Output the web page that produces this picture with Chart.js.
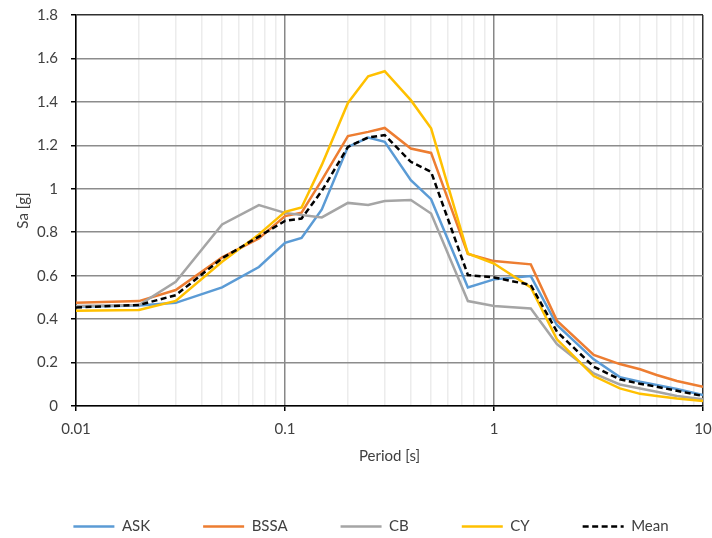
<!DOCTYPE html>
<html>
<head>
<meta charset="utf-8">
<script src="https://cdn.jsdelivr.net/npm/chart.js@4/dist/chart.umd.min.js"></script>
<style>
  html, body { margin: 0; padding: 0; background: #fff; }
  #wrap { width: 712px; height: 538px; }
</style>
</head>
<body>
<div id="wrap"><canvas id="chart"></canvas></div>
<script>
// periods [s] and spectral accelerations [g]
const periods = [0.01, 0.02, 0.03, 0.05, 0.075, 0.1, 0.12, 0.15, 0.2, 0.25, 0.3, 0.4, 0.5, 0.75, 1, 1.5, 2, 3, 4, 5, 6, 7.5, 10];
const ask  = [0.457, 0.463, 0.475, 0.546, 0.64, 0.751, 0.774, 0.905, 1.193, 1.236, 1.216, 1.04, 0.952, 0.546, 0.583, 0.598, 0.373, 0.215, 0.133, 0.112, 0.097, 0.078, 0.051];
const bssa = [0.475, 0.483, 0.534, 0.684, 0.771, 0.874, 0.89, 1.04, 1.243, 1.262, 1.28, 1.185, 1.165, 0.70, 0.667, 0.652, 0.393, 0.235, 0.193, 0.169, 0.143, 0.115, 0.089];
const cb   = [0.46, 0.465, 0.572, 0.836, 0.925, 0.889, 0.879, 0.868, 0.935, 0.925, 0.944, 0.948, 0.886, 0.483, 0.46, 0.449, 0.285, 0.15, 0.099, 0.081, 0.066, 0.046, 0.031];
const cy   = [0.438, 0.442, 0.484, 0.664, 0.79, 0.894, 0.914, 1.11, 1.395, 1.518, 1.541, 1.408, 1.278, 0.702, 0.656, 0.546, 0.307, 0.138, 0.081, 0.056, 0.046, 0.034, 0.023];
const mean = [0.454, 0.465, 0.51, 0.68, 0.78, 0.852, 0.863, 0.99, 1.193, 1.236, 1.247, 1.124, 1.078, 0.603, 0.592, 0.557, 0.342, 0.181, 0.123, 0.102, 0.089, 0.07, 0.046];

// labelled decades on the log axis
const xMajor = [0.01, 0.1, 1, 10];

const FONT = { family: 'Lato, "Open Sans", sans-serif', size: 15 };
const TEXT = '#404040';

const toPoints = ys => ys.map((y, i) => ({ x: periods[i], y }));

function series(label, data, color, order, dash) {
  return {
    label,
    data: toPoints(data),
    borderColor: color,
    backgroundColor: color,
    borderWidth: 2.5,
    borderDash: dash || [],
    pointRadius: 0,
    tension: 0,
    order,
  };
}

// log grid: every 1..9 step inside each decade
function logGridTicks(scale) {
  const ticks = [];
  for (let d = 0; d < xMajor.length - 1; d++) {
    for (let k = 1; k < 10; k++) {
      const v = Number((xMajor[d] * k).toPrecision(3));
      ticks.push({ value: v, major: k === 1 });
    }
  }
  ticks.push({ value: xMajor[xMajor.length - 1], major: true });
  scale.ticks = ticks;
}

const isMajor = v => xMajor.some(m => Math.abs(m - v) < 1e-9);

// legend swatches drawn as lines, keeping the dataset's dash and width
function lineLabels(chart) {
  const items = Chart.defaults.plugins.legend.labels.generateLabels(chart);
  items.forEach(item => {
    const ds = chart.data.datasets[item.datasetIndex];
    item.strokeStyle = ds.borderColor;
    item.lineWidth = ds.borderWidth;
    item.lineDash = ds.borderDash;
  });
  return items;
}

// the legend sits a little right of centre in the original
const legendNudge = {
  id: 'legendNudge',
  afterLayout(chart) {
    const lg = chart.legend;
    if (!lg) return;
    lg.left += 15;
    lg.right += 15;
  },
};

new Chart(document.getElementById('chart'), {
  type: 'line',
  data: {
    datasets: [
      series('ASK', ask, '#5B9BD5', 4),
      series('BSSA', bssa, '#ED7D31', 3),
      series('CB', cb, '#A5A5A5', 2),
      series('CY', cy, '#FFC000', 1),
      series('Mean', mean, '#000000', 0, [6, 3.5]),
    ],
  },
  options: {
    responsive: true,
    maintainAspectRatio: false,
    animation: false,
    layout: { padding: { top: 15, right: 0, bottom: -6, left: 0 } },
    scales: {
      x: {
        type: 'logarithmic',
        min: 0.01,
        max: 10,
        afterBuildTicks: logGridTicks,
        afterFit: scale => {
          scale.height = 60;
          scale.paddingRight = 9;
        },
        border: { color: '#000', width: 1.5 },
        grid: {
          lineWidth: 1.5,
          tickLength: 5,
          color: ctx => {
            const v = ctx.tick ? ctx.tick.value : 0;
            if (v >= 10) return '#303030';
            return isMajor(v) ? '#878787' : '#ececec';
          },
          tickColor: ctx => (ctx.tick && isMajor(ctx.tick.value) ? '#000' : 'rgba(0,0,0,0)'),
        },
        ticks: {
          autoSkip: false,
          maxRotation: 0,
          padding: 9,
          color: TEXT,
          font: FONT,
          callback: v => (isMajor(v) ? String(v) : ''),
        },
        title: { display: true, text: 'Period [s]', color: TEXT, font: FONT, padding: { top: 0, bottom: 1 } },
      },
      y: {
        min: 0,
        max: 1.8,
        afterFit: scale => {
          scale.width = 76;
          scale.paddingTop = 9;
        },
        border: { color: '#000', width: 1.5 },
        grid: {
          lineWidth: 1.5,
          tickLength: 5,
          tickColor: '#000',
          color: ctx => (ctx.tick && ctx.tick.value >= 1.8 ? '#303030' : '#8c8c8c'),
        },
        ticks: {
          stepSize: 0.2,
          padding: 13,
          color: TEXT,
          font: FONT,
          callback: v => String(Number(v.toFixed(1))),
        },
        title: { display: true, text: 'Sa [g]', color: TEXT, font: FONT, padding: { top: 14, bottom: 0 } },
      },
    },
    plugins: {
      legend: {
        position: 'bottom',
        reverse: true,
        labels: {
          usePointStyle: true,
          pointStyle: 'line',
          pointStyleWidth: 41,
          boxHeight: 10,
          padding: 53,
          color: TEXT,
          font: FONT,
          generateLabels: lineLabels,
        },
      },
      tooltip: { enabled: false },
    },
  },
  plugins: [legendNudge],
});
</script>
</body>
</html>
